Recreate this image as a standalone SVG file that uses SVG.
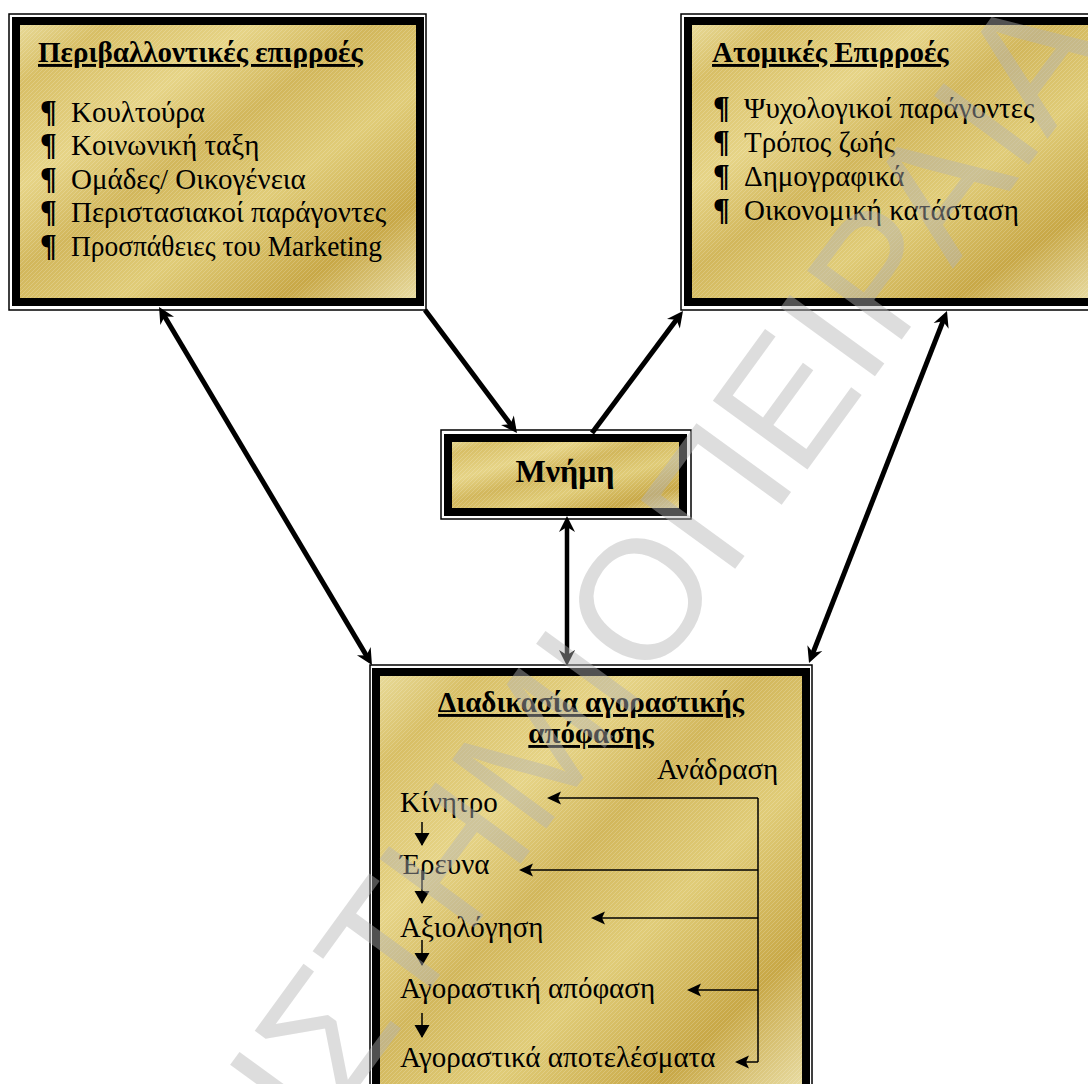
<svg xmlns="http://www.w3.org/2000/svg" width="1088" height="1084" viewBox="0 0 1088 1084">
<defs>
<linearGradient id="gold" x1="0" y1="0" x2="1" y2="1">
<stop offset="0" stop-color="#e9dc9c"/>
<stop offset="0.12" stop-color="#d8bf66"/>
<stop offset="0.3" stop-color="#e6d487"/>
<stop offset="0.45" stop-color="#d2b75c"/>
<stop offset="0.62" stop-color="#e0cc78"/>
<stop offset="0.82" stop-color="#c8a847"/>
<stop offset="1" stop-color="#eadfa8"/>
</linearGradient>
<pattern id="hatch" width="4" height="4" patternUnits="userSpaceOnUse">
<path d="M-1,1 L1,-1 M0,4 L4,0 M3,5 L5,3" stroke="#ffffff" stroke-width="0.6" stroke-opacity="0.3"/>
</pattern>
<marker id="big" viewBox="-17 -9 18 18" refX="-6" refY="0" markerWidth="18" markerHeight="18" markerUnits="userSpaceOnUse" orient="auto-start-reverse">
<path d="M0,0 L-16,-8 L-11,0 L-16,8 Z" fill="#000"/>
</marker>
<marker id="sm" viewBox="-15 -8 16 16" refX="-2" refY="0" markerWidth="16" markerHeight="16" markerUnits="userSpaceOnUse" orient="auto">
<path d="M0,0 L-14,-6.5 L-11,0 L-14,6.5 Z" fill="#000"/>
</marker>
<marker id="dn" viewBox="-14 -8 15 16" refX="-1" refY="0" markerWidth="15" markerHeight="16" markerUnits="userSpaceOnUse" orient="auto">
<path d="M0,0 L-13,-7.5 L-13,7.5 Z" fill="#000"/>
</marker>
</defs>
<style>
.outer{fill:none;stroke:#000;stroke-width:1.5}
.frame{fill:url(#gold);stroke:#000;stroke-width:8}
.hatch{fill:url(#hatch);stroke:none}
.t{font-family:"Liberation Serif","Times New Roman",serif;font-size:29px;fill:#000}
.b{font-weight:bold}
.p{font-weight:bold;font-size:31px}
.u{text-decoration:underline}
.conn{stroke:#000;stroke-width:5;fill:none}
.fb{stroke:#000;stroke-width:1.5;fill:none}
.wm{font-family:"Liberation Sans",Arial,sans-serif;font-size:170px;fill:#b3b3b3;fill-opacity:0.45}
</style>
<rect width="1088" height="1084" fill="#fff"/>

<g id="env">
<rect class="outer" x="9" y="14" width="417" height="296"/>
<rect class="frame" x="16" y="21" width="404" height="281"/>
<rect class="hatch" x="20" y="25" width="396" height="273"/>
<text class="t b u" x="38" y="62">Περιβαλλοντικές επιρροές</text>
<text class="t" y="122"><tspan class="p" x="40">¶</tspan><tspan x="71">Κουλτούρα</tspan></text>
<text class="t" y="155"><tspan class="p" x="40">¶</tspan><tspan x="71">Κοινωνική ταξη</tspan></text>
<text class="t" y="189"><tspan class="p" x="40">¶</tspan><tspan x="71">Ομάδες/ Οικογένεια</tspan></text>
<text class="t" y="222"><tspan class="p" x="40">¶</tspan><tspan x="71">Περιστασιακοί παράγοντες</tspan></text>
<text class="t" y="256"><tspan class="p" x="40">¶</tspan><tspan x="71" textLength="311" lengthAdjust="spacingAndGlyphs">Προσπάθειες του Marketing</tspan></text>
</g>

<g id="indiv">
<rect class="outer" x="681" y="14" width="420" height="296"/>
<rect class="frame" x="688" y="21" width="410" height="281"/>
<rect class="hatch" x="692" y="25" width="402" height="273"/>
<text class="t b u" x="712" y="62">Ατομικές Επιρροές</text>
<text class="t" y="118"><tspan class="p" x="713">¶</tspan><tspan x="744">Ψυχολογικοί παράγοντες</tspan></text>
<text class="t" y="152"><tspan class="p" x="713">¶</tspan><tspan x="744">Τρόπος ζωής</tspan></text>
<text class="t" y="186"><tspan class="p" x="713">¶</tspan><tspan x="744">Δημογραφικά</tspan></text>
<text class="t" y="220"><tspan class="p" x="713">¶</tspan><tspan x="744">Οικονομική κατάσταση</tspan></text>
</g>

<g id="memory">
<rect class="outer" x="441" y="430" width="250" height="89"/>
<rect class="frame" x="448" y="438" width="235" height="74"/>
<rect class="hatch" x="452" y="442" width="227" height="66"/>
<text class="t b" x="565" y="482" text-anchor="middle" style="font-size:32px">Μνήμη</text>
</g>

<g id="process">
<rect class="outer" x="370" y="665" width="442" height="430"/>
<rect class="frame" x="376" y="672" width="430" height="420"/>
<rect class="hatch" x="380" y="676" width="422" height="412"/>
<text class="t b u" x="591" y="712" text-anchor="middle">Διαδικασία αγοραστικής</text>
<text class="t b u" x="591" y="743" text-anchor="middle">απόφασης</text>
<text class="t" x="657" y="779">Ανάδραση</text>
<text class="t" x="400" y="812">Κίνητρο</text>
<text class="t" x="400" y="874">Έρευνα</text>
<text class="t" x="400" y="937">Αξιολόγηση</text>
<text class="t" x="400" y="998">Αγοραστική απόφαση</text>
<text class="t" x="400" y="1067">Αγοραστικά αποτελέσματα</text>
<path class="fb" d="M422,822 V845" marker-end="url(#dn)"/>
<path class="fb" d="M422,870 V903" marker-end="url(#dn)"/>
<path class="fb" d="M422,940 V965" marker-end="url(#dn)"/>
<path class="fb" d="M422,1013 V1037" marker-end="url(#dn)"/>
<path class="fb" d="M758,798 V1062"/>
<path class="fb" d="M758,798 H549" marker-end="url(#sm)"/>
<path class="fb" d="M758,870 H521" marker-end="url(#sm)"/>
<path class="fb" d="M758,918 H593" marker-end="url(#sm)"/>
<path class="fb" d="M758,990 H689" marker-end="url(#sm)"/>
<path class="fb" d="M758,1062 H737" marker-end="url(#sm)"/>
</g>

<g id="connectors">
<path class="conn" d="M162.1,312.2 L368.9,659.8" marker-start="url(#big)" marker-end="url(#big)"/>
<path class="conn" d="M425,310 L513.4,428.2" marker-end="url(#big)"/>
<path class="conn" d="M592,433 L679.4,315.8" marker-end="url(#big)"/>
<path class="conn" d="M567,522 L567,660" marker-start="url(#big)" marker-end="url(#big)" style="stroke-width:4.5"/>
<path class="conn" d="M944.8,316.6 L811.2,657.4" marker-start="url(#big)" marker-end="url(#big)"/>
</g>

<g id="watermark" transform="translate(727,580) rotate(-54)">
<text class="wm" x="0" y="0" text-anchor="end">ΠΑΝΕΠΙΣΤΗΜΙΟ</text>
<text class="wm" x="0" y="0"> ΠΕΙΡΑΙΑ</text>
</g>
</svg>
